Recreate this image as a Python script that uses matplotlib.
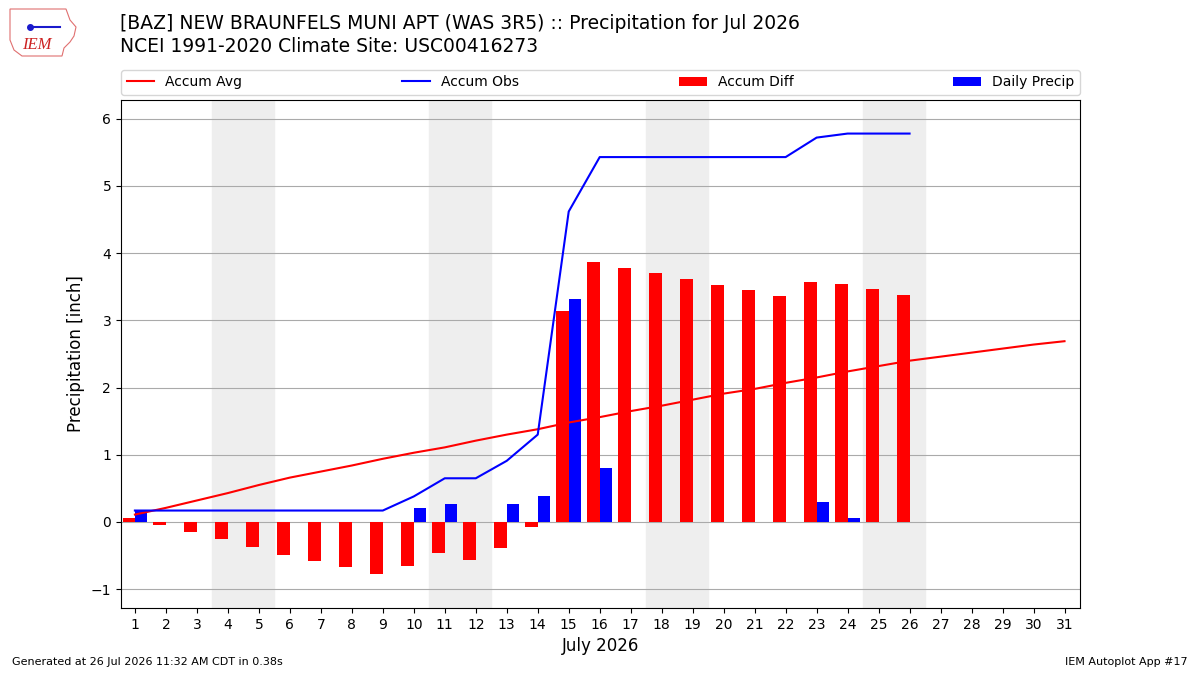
import numpy as np
import matplotlib
matplotlib.use("Agg")
import matplotlib.pyplot as plt
from matplotlib.patches import Polygon

# day of month
days = np.arange(1, 32)
obs_days = np.arange(1, 27)

# accumulated climatology (inch)
accum_avg = [0.11, 0.21, 0.32, 0.43, 0.55, 0.66, 0.75, 0.84, 0.94, 1.03,
             1.11, 1.21, 1.30, 1.38, 1.48, 1.56, 1.65, 1.73, 1.82, 1.91,
             1.98, 2.07, 2.15, 2.24, 2.32, 2.40, 2.46, 2.52, 2.58, 2.64, 2.69]

# daily observed precip (inch)
daily_precip = [0.17, 0, 0, 0, 0, 0, 0, 0, 0, 0.21,
                0.27, 0, 0.26, 0.39, 3.32, 0.81, 0, 0, 0, 0,
                0, 0, 0.29, 0.06, 0, 0]

weekends = [4, 11, 18, 25]

accum_obs = np.cumsum(daily_precip)
accum_diff = accum_obs - np.array(accum_avg[:len(obs_days)])

fig = plt.figure(figsize=(12, 6.75), dpi=100)
ax = fig.add_axes([0.1008, 0.0993, 0.7992, 0.7526])

for d in weekends:
    ax.axvspan(d - 0.5, d + 1.5, color="#eeeeee", zorder=0)

ax.plot(days, accum_avg, color="r", label="Accum Avg", zorder=3)
ax.plot(obs_days, accum_obs, color="b", label="Accum Obs", zorder=3)
ax.bar(obs_days, accum_diff, width=-0.4, align="edge", color="r",
       label="Accum Diff", zorder=2)
ax.bar(obs_days, daily_precip, width=0.4, align="edge", color="b",
       label="Daily Precip", zorder=2)

ax.set_xlim(0.55, 31.5)
ax.set_ylim(-1.28, 6.28)
ax.set_xticks(days)
ax.set_yticks(range(-1, 7))
ax.grid(axis="y", color="#aaaaaa", zorder=1)
ax.set_axisbelow(True)
ax.set_ylabel("Precipitation [inch]", fontsize=12)
ax.set_xlabel("July 2026", fontsize=12)

ax.legend(loc="lower left", bbox_to_anchor=(0, 1.01, 1, 0.06), ncol=4,
          mode="expand", borderaxespad=0, fontsize=10)

fig.text(0.1, 0.965, "[BAZ] NEW BRAUNFELS MUNI APT (WAS 3R5) :: Precipitation for Jul 2026",
         fontsize=13.5, va="center")
fig.text(0.1, 0.931, "NCEI 1991-2020 Climate Site: USC00416273",
         fontsize=13.5, va="center")

fig.text(0.01, 0.015, "Generated at 26 Jul 2026 11:32 AM CDT in 0.38s", fontsize=8)
fig.text(0.99, 0.015, "IEM Autoplot App #17", fontsize=8, ha="right")

# rough IEM logo
outline = np.array([[10, 9], [66, 9], [70, 20], [76, 27], [74, 36], [70, 42],
                    [64, 48], [62, 56], [22, 56], [14, 50], [10, 40]])
fig.patches.append(Polygon(np.column_stack([outline[:, 0] / 1200, 1 - outline[:, 1] / 675]),
                           closed=True, fill=False, edgecolor="#e07070", lw=0.8,
                           transform=fig.transFigure))
fig.text(37 / 1200, 1 - 45 / 675, "IEM", color="#cc2222", fontsize=12,
         family="Liberation Serif", style="italic", ha="center", va="center")
fig.lines.append(plt.Line2D([30 / 1200, 60 / 1200], [1 - 27 / 675, 1 - 27 / 675],
                            color="#1a1acc", lw=1.5, transform=fig.transFigure))
fig.lines.append(plt.Line2D([30 / 1200], [1 - 27 / 675], marker="o", ms=4,
                            color="#1a1acc", transform=fig.transFigure))

fig.savefig("out.png", dpi=100)
